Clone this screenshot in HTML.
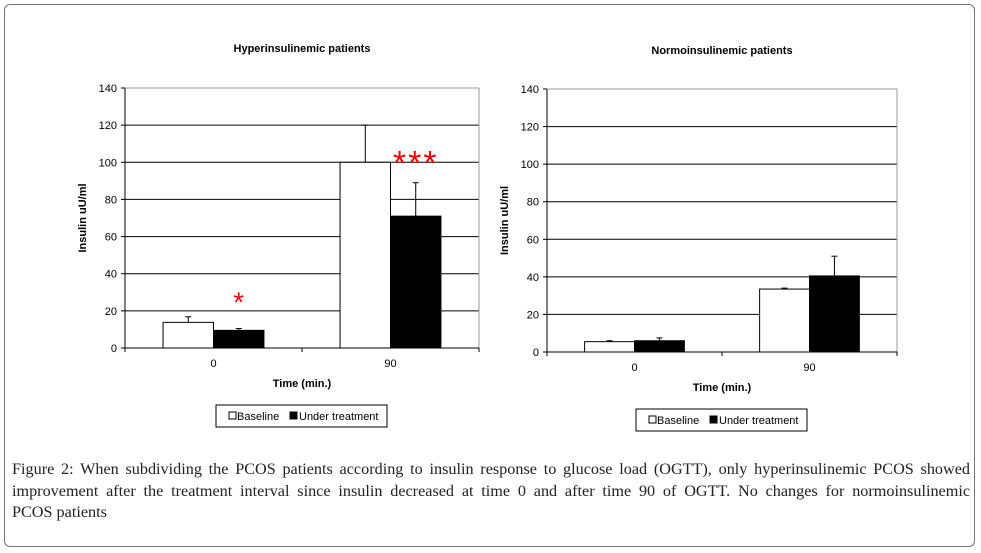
<!DOCTYPE html>
<html><head><meta charset="utf-8"><style>
body{margin:0;background:#fff;width:981px;height:553px;overflow:hidden}
#frame{position:absolute;left:4px;top:4px;width:971px;height:543px;border:1px solid #777;border-radius:6px;box-sizing:border-box}
#cap{position:absolute;left:12px;top:459px;width:958px;font-family:"Liberation Serif",serif;font-size:16.2px;line-height:21.5px;color:#222;white-space:nowrap}
#cap .j{display:block;text-align:justify;text-align-last:justify}
svg text{font-family:"Liberation Sans",sans-serif}
</style></head><body>
<div id="frame"></div>
<svg id="svg" width="981" height="553" style="position:absolute;left:0;top:0"></svg>
<div id="cap"><span class="j">Figure 2: When subdividing the PCOS patients according to insulin response to glucose load (OGTT), only hyperinsulinemic PCOS showed</span><span class="j">improvement after the treatment interval since insulin decreased at time 0 and after time 90 of OGTT. No changes for normoinsulinemic</span><span style="display:block">PCOS patients</span></div>
<script>
const categories=["0","90"];
const yTicks=[0,20,40,60,80,100,120,140];
const hyperBaseline=[13.8,100];
const hyperBaselineErr=[16.8,120];
const hyperTreatment=[9.5,71];
const hyperTreatmentErr=[10.5,89];
const normoBaseline=[5.5,33.5];
const normoBaselineErr=[6,34];
const normoTreatment=[6,40.5];
const normoTreatmentErr=[7.5,51];
const hyperSig=["*","***"];

const svg=document.getElementById('svg');
const NS="http://www.w3.org/2000/svg";
function mk(tag,attrs,name,parent){const e=document.createElementNS(NS,tag);for(const k in attrs)e.setAttribute(k,attrs[k]);


(parent||svg).appendChild(e);return e;}
function txt(x,y,s,attrs,name){const t=mk('text',Object.assign({x:x,y:y},attrs),name);t.textContent=s;return t;}

function chart(cfg){
  const g=mk('g',{},cfg.name);
  const x0=cfg.x0,x1=cfg.x1,yTop=cfg.yTop,yBot=cfg.yBot,max=140;
  const yS=v=>yBot-(v/max)*(yBot-yTop);
  const cw=(x1-x0)/categories.length;
  const xC=i=>x0+cw*(i+0.5);
  const bw=cw*0.285;
  yTicks.forEach(t=>{
    if(t>0)mk('line',{x1:x0,x2:x1,y1:yS(t),y2:yS(t),stroke:'#000','stroke-width':1},'gridline-'+t,g);
    mk('line',{x1:x0-4,x2:x0,y1:yS(t),y2:yS(t),stroke:'#000'},'y-tick-'+t,g);
    txt(x0-8,yS(t)+4,String(t),{'font-size':11,'text-anchor':'end'},'y-tick-label-'+t);
  });
  mk('line',{x1:x0,x2:x0,y1:yTop,y2:yBot,stroke:'#000'},'y-axis',g);
  mk('line',{x1:x1,x2:x1,y1:yTop,y2:yBot,stroke:'#999'},'plot-right-border',g);
  mk('line',{x1:x0,x2:x1,y1:yTop,y2:yTop,stroke:'#999'},'plot-top-border',g);
  categories.forEach((c,i)=>{
    const bx=xC(i)-bw;
    [[cfg.b,cfg.be,'#fff','baseline'],[cfg.t,cfg.te,'#000','treatment']].forEach((s,k)=>{
      const x=bx+k*bw;
      mk('line',{x1:x+bw/2,x2:x+bw/2,y1:yS(s[1][i]),y2:yS(s[0][i]),stroke:'#000'},'error-bar-'+s[3]+'-'+c,g);
      mk('line',{x1:x+bw/2-3,x2:x+bw/2+3,y1:yS(s[1][i]),y2:yS(s[1][i]),stroke:'#000'},'error-cap-'+s[3]+'-'+c,g);
      mk('rect',{x:x,y:yS(s[0][i]),width:bw,height:yBot-yS(s[0][i]),fill:s[2],stroke:'#000','stroke-width':1},'bar-'+s[3]+'-'+c,g);
    });
    txt(xC(i),yBot+19,c,{'font-size':11,'text-anchor':'middle'},'x-tick-label-'+c);
    if(cfg.sig){txt(xC(i)+bw/2,yS(cfg.te[i])-(i==0?17:8),cfg.sig[i],{'font-size':i==0?28:34,'fill':'#e00','text-anchor':'middle','letter-spacing':i==0?0:2},'significance-'+c);}
  });
  for(let i=0;i<=categories.length;i++)mk('line',{x1:x0+cw*i,x2:x0+cw*i,y1:yBot,y2:yBot+4,stroke:'#000'},'x-tick-'+i,g);
  mk('line',{x1:x0,x2:x1,y1:yBot,y2:yBot,stroke:'#000'},'x-axis',g);
  txt((x0+x1)/2,cfg.titleY,cfg.title,{'font-size':11,'font-weight':'bold','text-anchor':'middle'},'chart-title');
  txt((x0+x1)/2,yBot+39,'Time (min.)',{'font-size':11,'font-weight':'bold','text-anchor':'middle'},'x-axis-title');
  txt(0,0,'Insulin uU/ml',{'font-size':11,'font-weight':'bold','text-anchor':'middle',transform:`translate(${cfg.yTitleX},${(yTop+yBot)/2}) rotate(-90)`},'y-axis-title');
  const L=cfg.leg;
  mk('rect',{x:L[0],y:L[1],width:171,height:22,fill:'#fff',stroke:'#000'},'legend',g);
  mk('rect',{x:L[0]+13,y:L[1]+7,width:7,height:7,fill:'#fff',stroke:'#000'},'legend-swatch-baseline',g);
  txt(L[0]+21,L[1]+15,'Baseline',{'font-size':11},'legend-entry-baseline');
  mk('rect',{x:L[0]+74,y:L[1]+7,width:7,height:7,fill:'#000',stroke:'#000'},'legend-swatch-treatment',g);
  txt(L[0]+83,L[1]+15,'Under treatment',{'font-size':11},'legend-entry-treatment');
}
chart({name:'hyperinsulinemic-chart',x0:125,x1:479,yTop:88,yBot:348,b:hyperBaseline,be:hyperBaselineErr,t:hyperTreatment,te:hyperTreatmentErr,sig:hyperSig,title:'Hyperinsulinemic patients',titleY:52,yTitleX:86,leg:[216,405]});
chart({name:'normoinsulinemic-chart',x0:547,x1:897,yTop:89,yBot:352,b:normoBaseline,be:normoBaselineErr,t:normoTreatment,te:normoTreatmentErr,sig:null,title:'Normoinsulinemic patients',titleY:54,yTitleX:508,leg:[636,409]});
</script>
</body></html>
